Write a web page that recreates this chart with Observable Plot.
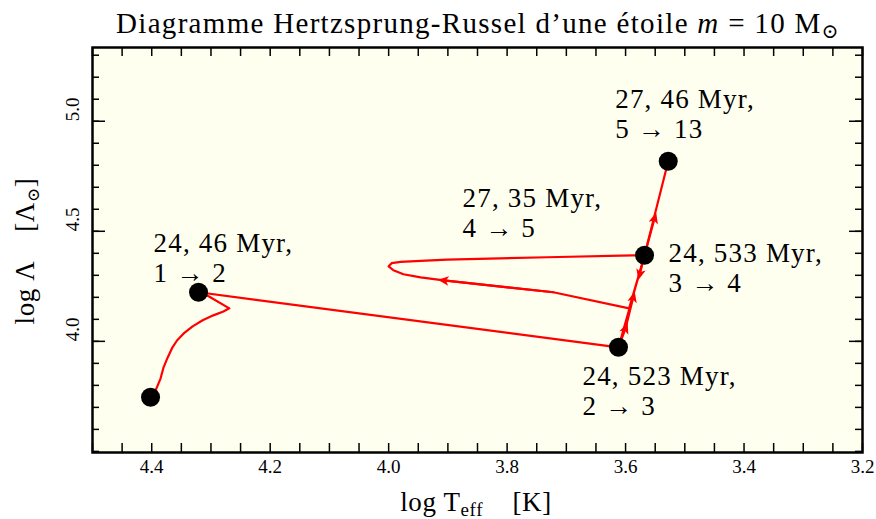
<!DOCTYPE html>
<html><head><meta charset="utf-8">
<script src="https://cdn.jsdelivr.net/npm/d3@7"></script>
<script src="https://cdn.jsdelivr.net/npm/@observablehq/plot@0.6"></script>
<style>
body{margin:0;background:#fff;}
#title{font-family:"Liberation Serif","Times New Roman",Tinos,"DejaVu Serif",serif;font-size:29px;letter-spacing:1.3px;height:40px;line-height:46px;width:796px;padding-left:80px;text-align:center;white-space:nowrap;color:#000;overflow:visible;}
#title sub{font-size:0.7em;vertical-align:-0.25em;line-height:0;}
#chart{height:479px;}
</style></head><body>
<div id="title">Diagramme Hertzsprung-Russel d’une étoile <i>m</i> = 10 M<sub>⊙</sub></div>
<div id="chart"></div>
<script>
// ---- data ----
const trackX = [4.402, 4.392, 4.385, 4.380, 4.373, 4.365, 4.357, 4.346, 4.331, 4.314, 4.296, 4.279, 4.269, 4.304, 4.321,
                3.612, 3.568, 3.594, 3.722, 3.907, 3.946, 3.975, 3.992, 4.000, 3.995, 3.980, 3.946, 3.901, 3.732, 3.587, 3.568, 3.528];
const trackY = [3.746, 3.786, 3.832, 3.882, 3.927, 3.973, 4.005, 4.036, 4.068, 4.096, 4.118, 4.136, 4.150, 4.205, 4.223,
                3.973, 4.391, 4.150, 4.223, 4.277, 4.291, 4.305, 4.323, 4.341, 4.355, 4.361, 4.366, 4.371, 4.382, 4.391, 4.391, 4.818];
const pointX = [4.402, 4.321, 3.612, 3.568, 3.528];
const pointY = [3.746, 4.223, 3.973, 4.391, 4.818];
// arrows: segment along the track ending at the arrowhead
const arrowFromX = [3.612, 3.600, 3.568, 3.722, 3.568];
const arrowFromY = [3.973, 4.059, 4.391, 4.223, 4.391];
const arrowToX   = [3.600, 3.587, 3.576, 3.907, 3.551];
const arrowToY   = [4.059, 4.200, 4.305, 4.277, 4.559];
const labelText = ["24, 46 Myr,\n1 → 2", "24, 523 Myr,\n2 → 3", "24, 533 Myr,\n3 → 4", "27, 35 Myr,\n4 → 5", "27, 46 Myr,\n5 → 13"];
const labelPoint = [1, 2, 3, 3, 4];
const xTickLabels = [4.4, 4.2, 4.0, 3.8, 3.6, 3.4, 3.2];
const yTickLabels = [4.0, 4.5, 5.0];

// ---- layout / style ----
const FONT = '"Liberation Serif", "Times New Roman", Tinos, "DejaVu Serif", serif';
const W = 876, H = 479, mt = 7, mb = 67, ml = 92, mr = 14;
const innerH = H - mt - mb, innerW = W - ml - mr;
const labelOffsets = [[-45, -10], [-36, 68], [24, 37], [-182, -18], [-53, -23]];
const xMinorTicks = d3.range(0, 27).map(i => +(4.5 - i * 0.05).toFixed(2));
const yMinorTicks = d3.range(0, 19).map(i => +(3.5 + i * 0.1).toFixed(1));

const track = trackX.map((x, i) => ({x, y: trackY[i]}));
const points = pointX.map((x, i) => ({x, y: pointY[i]}));
const arrowRows = [];
arrowFromX.forEach((x, i) => {
  arrowRows.push({x, y: arrowFromY[i], z: i});
  arrowRows.push({x: arrowToX[i], y: arrowToY[i], z: i});
});

function stealth(color) {
  const m = d3.create("svg:marker")
    .attr("viewBox", "-6 -5 12 10")
    .attr("markerWidth", 12).attr("markerHeight", 10)
    .attr("markerUnits", "userSpaceOnUse")
    .attr("orient", "auto")
    .attr("fill", color).attr("stroke", "none");
  m.append("path").attr("d", "M6,0L-5,-4.8L-2.2,0L-5,4.8Z");
  return m.node();
}

function axisLabels() {
  const g = d3.create("svg:g").attr("font-family", FONT).attr("fill", "black").style("white-space", "pre");
  const tx = g.append("text").attr("x", 476).attr("y", 471).attr("text-anchor", "middle").attr("font-size", 27).attr("letter-spacing", 0.6);
  tx.append("tspan").text("log T");
  tx.append("tspan").attr("font-size", 19).attr("dy", 5).text("eff");
  tx.append("tspan").attr("dy", -5).text("    [K]");
  const ty = g.append("text").attr("transform", "translate(34,211) rotate(-90)").attr("text-anchor", "middle").attr("font-size", 27).attr("letter-spacing", 0.6);
  ty.append("tspan").text("log Λ    [Λ");
  ty.append("tspan").attr("font-size", 17).attr("dy", 5).text("⊙");
  ty.append("tspan").attr("dy", -5).text("]");
  return g.node();
}

function build(marker) {
  const tickStyle = {stroke: "black", strokeWidth: 1.5};
  const marks = [
    Plot.frame({fill: "#fffff0", stroke: null}),
    Plot.ruleX(xMinorTicks, {x: d => d, insetTop: innerH - 9, ...tickStyle}),
    Plot.ruleX(xMinorTicks, {x: d => d, insetBottom: innerH - 9, ...tickStyle}),
    Plot.ruleY(yMinorTicks, {y: d => d, insetRight: innerW - 7, ...tickStyle}),
    Plot.ruleY(yMinorTicks, {y: d => d, insetLeft: innerW - 7, ...tickStyle}),
    Plot.ruleY(yTickLabels, {y: d => d, insetRight: innerW - 13, ...tickStyle}),
    Plot.ruleY(yTickLabels, {y: d => d, insetLeft: innerW - 13, ...tickStyle}),
    Plot.line(track, {x: "x", y: "y", stroke: "#ff0000", strokeWidth: 2.2}),
    Plot.line(arrowRows, {x: "x", y: "y", z: "z", stroke: "#ff0000", strokeWidth: 2.2, markerEnd: marker}),
    Plot.dot(points, {x: "x", y: "y", r: 9.5, fill: "black", stroke: null}),
    ...labelText.map((t, i) => Plot.text([points[labelPoint[i]]], {
      x: "x", y: "y", text: () => t, dx: labelOffsets[i][0], dy: labelOffsets[i][1],
      textAnchor: "start", lineAnchor: "bottom", lineHeight: 1.12, fontSize: 27, fill: "black", fontFamily: FONT
    })),
    Plot.frame({stroke: "black", strokeWidth: 2.5}),
    Plot.text(xTickLabels, {x: d => d, frameAnchor: "bottom", dy: 14, text: d => d.toFixed(1), fontSize: 19, lineAnchor: "middle", fill: "black", fontFamily: FONT}),
    Plot.text(yTickLabels, {y: d => d, frameAnchor: "left", dx: -20, rotate: -90, text: d => d.toFixed(1), fontSize: 19, lineAnchor: "middle", fill: "black", fontFamily: FONT}),
    axisLabels
  ];
  const svg = Plot.plot({
    width: W, height: H, marginTop: mt, marginBottom: mb, marginLeft: ml, marginRight: mr,
    style: {fontFamily: FONT, background: "white", overflow: "visible"},
    x: {domain: [4.5, 3.2], axis: null},
    y: {domain: [3.495, 5.335], axis: null},
    marks
  });
  // a little letter spacing on the annotations to mimic the wider original typeface
  d3.select(svg).selectAll("text").filter(function() { return this.textContent.includes("Myr"); }).attr("letter-spacing", 1.2);
  return svg;
}

let chart;
try { chart = build(stealth); } catch (e) { chart = build("arrow"); }
document.getElementById("chart").append(chart);
</script>
</body></html>
